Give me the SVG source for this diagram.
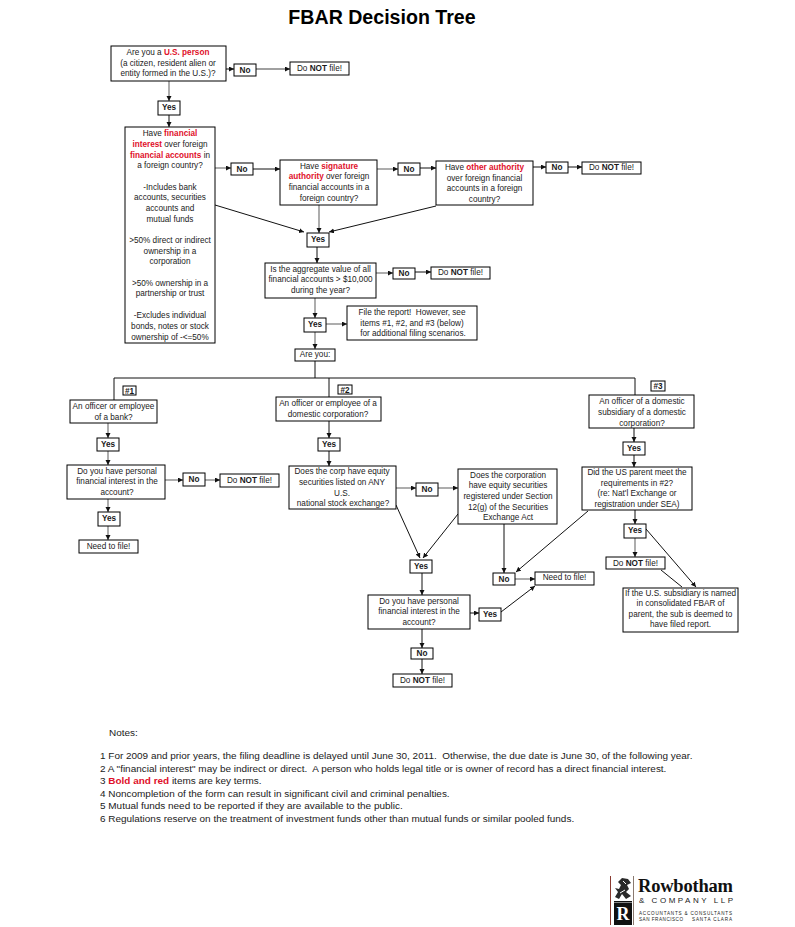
<svg xmlns="http://www.w3.org/2000/svg" width="795" height="927" viewBox="0 0 795 927">
<style>
text{font-family:"Liberation Sans",Arial,sans-serif;font-size:8.2px;fill:#1a1a1a;text-anchor:middle;white-space:pre}
.box rect,rect.b{fill:#fff;stroke:#000;stroke-width:1}
.r{fill:#e0102a;font-weight:bold}
.bd{font-weight:bold}
.title{font-size:19.6px;font-weight:bold;fill:#000}
.note{font-size:9.96px;text-anchor:start}
.c line,.c path{stroke:#111;stroke-width:1;fill:none}
.c .g{stroke:#808080;stroke-width:1.3}
.c .a{marker-end:url(#ah)}
</style>
<defs><marker id="ah" markerUnits="userSpaceOnUse" markerWidth="6" markerHeight="6" refX="5" refY="2.5" orient="auto"><path d="M0 0L5 2.5L0 5Z" fill="#111"/></marker></defs>
<rect width="795" height="927" fill="#fff"/>
<text class="title" x="382" y="24">FBAR Decision Tree</text>
<g id="connectors" class="c">
<line class="a" x1="226" y1="69" x2="234" y2="69"/>
<line class="g a" x1="256" y1="69" x2="290" y2="69"/>
<line class="g a" x1="169" y1="81" x2="169" y2="101"/>
<line class="a" x1="169" y1="115" x2="169" y2="127"/>
<line class="g a" x1="215" y1="168" x2="231" y2="168"/>
<line class="a" x1="253" y1="169" x2="280" y2="169"/>
<line class="a" x1="215" y1="205" x2="304" y2="232"/>
<line class="g a" x1="319" y1="205" x2="319" y2="233"/>
<line class="a" x1="436" y1="206" x2="329" y2="232"/>
<line class="g a" x1="377" y1="169" x2="398" y2="169"/>
<line class="a" x1="420" y1="168" x2="436" y2="168"/>
<line class="a" x1="533" y1="167" x2="546" y2="167"/>
<line class="a" x1="568" y1="167" x2="582" y2="167"/>
<line class="a" x1="317" y1="247" x2="317" y2="263"/>
<line class="g a" x1="376" y1="273" x2="393" y2="273"/>
<line class="a" x1="415" y1="272" x2="431" y2="272"/>
<line class="g a" x1="315" y1="298" x2="315" y2="318"/>
<line class="g a" x1="326" y1="324" x2="347" y2="324"/>
<line class="g a" x1="315" y1="332" x2="315" y2="349"/>
<path d="M315 361V378M114 400V378H635V396M329 378V397"/>
<line class="g a" x1="108" y1="423" x2="108" y2="438"/>
<line class="g a" x1="108" y1="451" x2="108" y2="465"/>
<line class="g a" x1="165" y1="480" x2="183" y2="480"/>
<line class="g a" x1="205" y1="480" x2="220" y2="480"/>
<line class="g a" x1="108" y1="499" x2="108" y2="512"/>
<line class="g a" x1="108" y1="526" x2="108" y2="540"/>
<line class="a" x1="329" y1="421" x2="329" y2="438"/>
<line class="a" x1="329" y1="451" x2="329" y2="466"/>
<line class="g a" x1="396" y1="488" x2="416" y2="488"/>
<line class="g a" x1="438" y1="488" x2="458" y2="488"/>
<line class="a" x1="396" y1="505" x2="420" y2="558"/>
<line class="a" x1="458" y1="514" x2="423" y2="558"/>
<line class="a" x1="504" y1="524" x2="504" y2="573"/>
<line class="a" x1="588" y1="511" x2="516" y2="572"/>
<line class="g a" x1="515" y1="579" x2="535" y2="579"/>
<line class="a" x1="422" y1="573" x2="422" y2="595"/>
<line class="a" x1="470" y1="613" x2="479" y2="613"/>
<line class="a" x1="501" y1="612" x2="535" y2="586"/>
<line class="a" x1="422" y1="629" x2="422" y2="648"/>
<line class="a" x1="422" y1="659" x2="422" y2="674"/>
<line class="a" x1="634" y1="428" x2="634" y2="442"/>
<line class="a" x1="634" y1="455" x2="634" y2="467"/>
<line class="a" x1="635" y1="510" x2="635" y2="524"/>
<line class="g a" x1="635" y1="538" x2="635" y2="557"/>
<line x1="661" y1="570" x2="682" y2="587"/>
<line class="a" x1="646" y1="529" x2="696" y2="587"/>
</g>
<g id="q-us-person" class="box"><rect x="111" y="46" width="115" height="35"/><text x="168" y="55">Are you a <tspan class="r">U.S. person</tspan></text><text x="168" y="66">(a citizen, resident alien or</text><text x="168" y="76">entity formed in the U.S.)?</text></g>
<g id="no-1" class="box"><rect x="234" y="64" width="22" height="12"/><text class="bd" x="245" y="73">No</text></g>
<g id="dnf-1" class="box"><rect x="290" y="62" width="59" height="13"/><text x="319.500" y="71">Do <tspan class="bd">NOT</tspan> file!</text></g>
<g id="yes-1" class="box"><rect x="158" y="101" width="22" height="14"/><text class="bd" x="169" y="110">Yes</text></g>
<g id="q-financial" class="box"><rect x="125" y="127" width="90" height="216"/>
<text x="170" y="136">Have <tspan class="r">financial</tspan></text>
<text x="170" y="147"><tspan class="r">interest</tspan> over foreign</text>
<text x="170" y="158"><tspan class="r">financial accounts</tspan> in</text>
<text x="170" y="168">a foreign country?</text>
<text x="170" y="190">-Includes bank</text>
<text x="170" y="200">accounts, securities</text>
<text x="170" y="211">accounts and</text>
<text x="170" y="222">mutual funds</text>
<text x="170" y="243">&gt;50% direct or indirect</text>
<text x="170" y="254">ownership in a</text>
<text x="170" y="264">corporation</text>
<text x="170" y="286">&gt;50% ownership in a</text>
<text x="170" y="296">partnership or trust</text>
<text x="170" y="318">-Excludes individual</text>
<text x="170" y="329">bonds, notes or stock</text>
<text x="170" y="340">ownership of -&lt;=50%</text></g>
<g id="no-2" class="box"><rect x="231" y="163" width="22" height="12"/><text class="bd" x="242" y="172">No</text></g>
<g id="q-signature" class="box"><rect x="280" y="160" width="97" height="45"/><text x="329" y="169">Have <tspan class="r">signature</tspan></text><text x="329" y="179"><tspan class="r">authority</tspan> over foreign</text><text x="329" y="190">financial accounts in a</text><text x="329" y="201">foreign country?</text></g>
<g id="no-3" class="box"><rect x="398" y="163" width="22" height="12"/><text class="bd" x="409" y="172">No</text></g>
<g id="q-other" class="box"><rect x="436" y="161" width="97" height="44"/><text x="484.500" y="170">Have <tspan class="r">other authority</tspan></text><text x="484.500" y="181">over foreign financial</text><text x="484.500" y="191">accounts in a foreign</text><text x="484.500" y="202">country?</text></g>
<g id="no-4" class="box"><rect x="546" y="162" width="22" height="11"/><text class="bd" x="557" y="170">No</text></g>
<g id="dnf-2" class="box"><rect x="582" y="162" width="59" height="12"/><text x="611.500" y="170">Do <tspan class="bd">NOT</tspan> file!</text></g>
<g id="yes-2" class="box"><rect x="307" y="233" width="22" height="14"/><text class="bd" x="318" y="242">Yes</text></g>
<g id="q-aggregate" class="box"><rect x="265" y="263" width="111" height="35"/><text x="320.500" y="272">Is the aggregate value of all</text><text x="320.500" y="282">financial accounts &gt; $10,000</text><text x="320.500" y="293">during the year?</text></g>
<g id="no-5" class="box"><rect x="393" y="268" width="22" height="11"/><text class="bd" x="404" y="276">No</text></g>
<g id="dnf-3" class="box"><rect x="431" y="267" width="59" height="12"/><text x="460.500" y="275">Do <tspan class="bd">NOT</tspan> file!</text></g>
<g id="yes-3" class="box"><rect x="304" y="318" width="22" height="14"/><text class="bd" x="315" y="327">Yes</text></g>
<g id="file-report" class="box"><rect x="347" y="306" width="130" height="34"/><text x="412" y="315">File the report!  However, see</text><text x="412" y="326">items #1, #2, and #3 (below)</text><text x="413" y="336">for additional filing scenarios.</text></g>
<g id="are-you" class="box"><rect x="295" y="349" width="40" height="12"/><text x="315" y="357">Are you:</text></g>
<g id="tag-1" class="box"><rect x="123" y="386" width="13" height="9"/><text class="bd" x="129.500" y="394">#1</text></g>
<g id="tag-2" class="box"><rect x="338" y="385" width="14" height="9"/><text class="bd" x="345" y="393">#2</text></g>
<g id="tag-3" class="box"><rect x="651" y="381" width="14" height="10"/><text class="bd" x="658" y="389">#3</text></g>
<g id="q-bank" class="box"><rect x="70" y="400" width="87" height="23"/><text x="113.500" y="409">An officer or employee</text><text x="113.500" y="420">of a bank?</text></g>
<g id="yes-4" class="box"><rect x="97" y="438" width="22" height="13"/><text class="bd" x="108" y="447">Yes</text></g>
<g id="q-personal-1" class="box"><rect x="67" y="465" width="98" height="34"/><text x="117" y="474">Do you have personal</text><text x="117" y="484">financial interest in the</text><text x="117" y="495">account?</text></g>
<g id="no-6" class="box"><rect x="183" y="473" width="22" height="13"/><text class="bd" x="194" y="482">No</text></g>
<g id="dnf-4" class="box"><rect x="220" y="474" width="59" height="13"/><text x="249.500" y="483">Do <tspan class="bd">NOT</tspan> file!</text></g>
<g id="yes-5" class="box"><rect x="98" y="512" width="22" height="14"/><text class="bd" x="109" y="521">Yes</text></g>
<g id="need-1" class="box"><rect x="79" y="540" width="59" height="13"/><text x="108.500" y="549">Need to file!</text></g>
<g id="q-domestic" class="box"><rect x="276" y="397" width="105" height="24"/><text x="328" y="406">An officer or employee of a</text><text x="328" y="417">domestic corporation?</text></g>
<g id="yes-6" class="box"><rect x="318" y="438" width="22" height="13"/><text class="bd" x="329" y="447">Yes</text></g>
<g id="q-listed" class="box"><rect x="289" y="466" width="107" height="43"/><text x="342" y="474">Does the corp have equity</text><text x="342" y="485">securities listed on ANY</text><text x="342" y="496">U.S.</text><text x="343" y="506">national stock exchange?</text></g>
<g id="no-7" class="box"><rect x="416" y="483" width="22" height="13"/><text class="bd" x="427" y="492">No</text></g>
<g id="q-registered" class="box"><rect x="458" y="469" width="99" height="55"/><text x="508" y="478">Does the corporation</text><text x="508" y="488">have equity securities</text><text x="508" y="499">registered under Section</text><text x="508" y="510">12(g) of the Securities</text><text x="508" y="520">Exchange Act</text></g>
<g id="yes-7" class="box"><rect x="410" y="560" width="22" height="13"/><text class="bd" x="421" y="569">Yes</text></g>
<g id="q-personal-2" class="box"><rect x="368" y="595" width="102" height="34"/><text x="419" y="604">Do you have personal</text><text x="419" y="614">financial interest in the</text><text x="419" y="625">account?</text></g>
<g id="yes-8" class="box"><rect x="479" y="608" width="22" height="13"/><text class="bd" x="490" y="617">Yes</text></g>
<g id="no-8" class="box"><rect x="411" y="648" width="22" height="11"/><text class="bd" x="422" y="656">No</text></g>
<g id="dnf-5" class="box"><rect x="393" y="674" width="59" height="13"/><text x="422.500" y="683">Do <tspan class="bd">NOT</tspan> file!</text></g>
<g id="no-9" class="box"><rect x="493" y="573" width="22" height="12"/><text class="bd" x="504" y="582">No</text></g>
<g id="need-2" class="box"><rect x="535" y="572" width="59" height="13"/><text x="564.500" y="580">Need to file!</text></g>
<g id="q-subsidiary" class="box"><rect x="589" y="395" width="105" height="33"/><text x="642" y="404">An officer of a domestic</text><text x="642" y="415">subsidiary of a domestic</text><text x="642" y="426">corporation?</text></g>
<g id="yes-9" class="box"><rect x="623" y="442" width="22" height="13"/><text class="bd" x="634" y="451">Yes</text></g>
<g id="q-parent" class="box"><rect x="582" y="467" width="110" height="43"/><text x="637" y="475">Did the US parent meet the</text><text x="637" y="486">requirements in #2?</text><text x="637" y="496">(re: Nat'l Exchange or</text><text x="637" y="507">registration under SEA)</text></g>
<g id="yes-10" class="box"><rect x="624" y="524" width="22" height="14"/><text class="bd" x="635" y="533">Yes</text></g>
<g id="dnf-6" class="box"><rect x="606" y="557" width="59" height="12"/><text x="635.500" y="566">Do <tspan class="bd">NOT</tspan> file!</text></g>
<g id="consolidated" class="box"><rect x="623" y="588" width="115" height="44"/><text x="680.500" y="596">If the U.S. subsidiary is named</text><text x="680.500" y="606">in consolidated FBAR of</text><text x="680.500" y="617">parent, the sub is deemed to</text><text x="680.500" y="627">have filed report.</text></g>
<g id="notes">
<text class="note" x="109" y="736">Notes:</text>
<text class="note" x="100" y="759">1 For 2009 and prior years, the filing deadline is delayed until June 30, 2011.  Otherwise, the due date is June 30, of the following year.</text>
<text class="note" x="100" y="772">2 A "financial interest" may be indirect or direct.  A person who holds legal title or is owner of record has a direct financial interest.</text>
<text class="note" x="100" y="784">3 <tspan class="r">Bold and red</tspan> items are key terms.</text>
<text class="note" x="100" y="797">4 Noncompletion of the form can result in significant civil and criminal penalties.</text>
<text class="note" x="100" y="809">5 Mutual funds need to be reported if they are available to the public.</text>
<text class="note" x="100" y="822">6 Regulations reserve on the treatment of investment funds other than mutual funds or similar pooled funds.</text>
</g>
<g id="logo">
<path d="M610.500 876V925" stroke="#8a3a30" stroke-width="1" fill="none"/>
<path d="M633.500 876V925" stroke="#8a7a70" stroke-width="1" fill="none"/>
<path d="M622 878L628 879L631 883L627 885L629 889L626 892L631 896L626 899L622 894L619 899L615 897L618 892L615 888L619 889L621 885L618 882Z" fill="#2a2a2a"/>
<path d="M623 881L626 884M620 893L625 890" stroke="#fff" stroke-width="1" fill="none"/>
<rect x="614" y="901" width="18" height="1.500" fill="#111"/>
<rect x="614" y="903" width="18" height="22" fill="#111"/>
<text x="623" y="920" style="font-family:'Liberation Serif',serif;font-size:18px;font-weight:bold;fill:#fff">R</text>
<text x="638" y="892" style="font-family:'Liberation Serif',serif;font-size:18.500px;font-weight:bold;text-anchor:start;fill:#111" textLength="95">Rowbotham</text>
<text x="639" y="903" style="font-size:8px;text-anchor:start;fill:#222" textLength="94">&amp; COMPANY LLP</text>
<text x="639" y="915" style="font-size:4.600px;text-anchor:start;fill:#222" textLength="93">ACCOUNTANTS &amp; CONSULTANTS</text>
<text x="639" y="921" style="font-size:4.600px;text-anchor:start;fill:#222" textLength="44">SAN FRANCISCO</text>
<text x="692" y="921" style="font-size:4.600px;text-anchor:start;fill:#222" textLength="40">SANTA CLARA</text>
</g>
</svg>
